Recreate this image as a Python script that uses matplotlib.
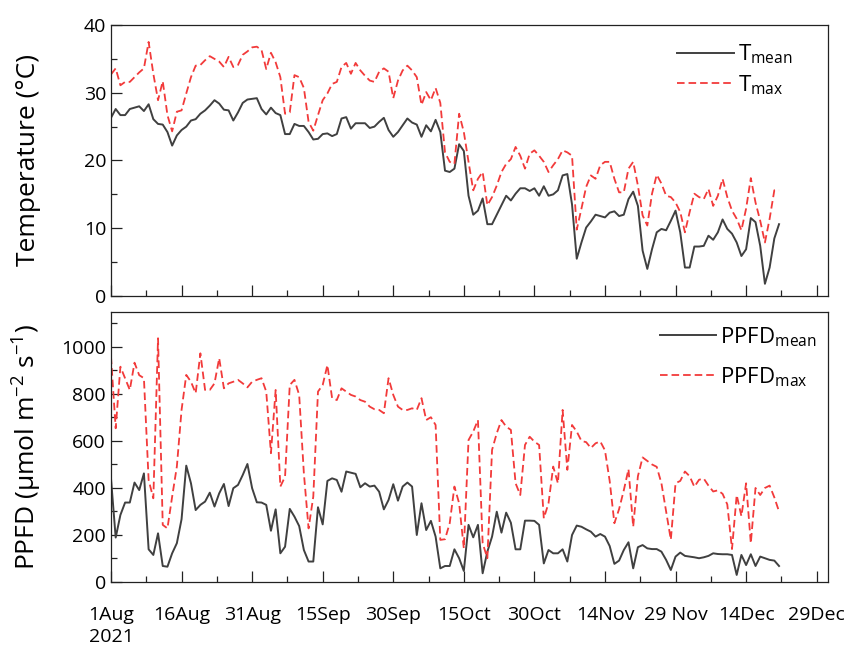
import numpy as np
import matplotlib
matplotlib.use("Agg")
import matplotlib.pyplot as plt
from matplotlib.ticker import MultipleLocator

plt.rcParams['font.family'] = ['Open Sans', 'DejaVu Sans']
plt.rcParams['mathtext.fontset'] = 'custom'
plt.rcParams['mathtext.rm'] = 'Open Sans'
plt.rcParams['mathtext.it'] = 'Open Sans:italic'

# daily values, 1 Aug - 21 Dec 2021
t_mean = [26.3, 27.6, 26.7, 26.7, 27.6, 27.8, 28.0, 27.3, 28.3, 26.1,
          25.4, 25.3, 24.2, 22.2, 23.7, 24.5, 25.0, 25.9, 26.1, 26.9,
          27.4, 28.1, 28.9, 28.4, 27.5, 27.4, 25.9, 27.1, 28.5, 29.0,
          29.1, 29.2, 27.6, 26.8, 27.8, 27.0, 26.7, 23.9, 23.9, 25.4,
          25.1, 25.1, 24.2, 23.1, 23.2, 23.9, 24.0, 23.6, 23.9, 26.2,
          26.4, 24.7, 25.5, 25.5, 25.5, 24.8, 25.0, 25.7, 26.3, 24.5,
          23.5, 24.2, 25.2, 26.2, 25.6, 25.3, 23.5, 25.2, 24.3, 26.0,
          24.2, 18.5, 18.3, 18.8, 22.4, 21.4, 14.8, 12.0, 12.6, 14.4,
          10.6, 10.6, 12.0, 13.4, 14.8, 14.1, 15.1, 15.9, 15.9, 15.5,
          15.9, 14.8, 16.2, 14.8, 15.0, 15.6, 17.8, 18.0, 13.5, 5.5,
          7.9, 10.1, 11.0, 12.0, 11.8, 11.6, 12.3, 12.5, 11.8, 12.0,
          14.3, 15.4, 13.3, 6.7, 4.0, 6.9, 9.4, 9.9, 9.7, 11.1,
          12.6, 9.4, 4.2, 4.2, 7.3, 7.3, 7.4, 8.9, 8.3, 9.4,
          11.3, 9.9, 9.2, 7.9, 5.9, 6.9, 11.5, 10.9, 7.4, 1.8,
          4.2, 8.5, 10.6]
t_max = [32.7, 33.6, 31.1, 31.6, 31.6, 32.3, 33.0, 33.6, 37.5, 32.8,
         28.9, 31.7, 26.7, 24.3, 27.2, 27.4, 29.9, 32.3, 34.0, 34.1,
         34.8, 35.4, 35.0, 34.6, 33.8, 35.3, 33.8, 34.1, 35.6, 36.1,
         36.7, 36.8, 36.3, 33.5, 35.9, 34.5, 32.3, 26.9, 27.1, 32.6,
         32.3, 30.7, 25.7, 24.4, 26.7, 28.9, 29.9, 31.3, 31.6, 33.8,
         34.4, 32.8, 34.4, 33.3, 32.5, 31.8, 31.6, 33.1, 33.6, 33.1,
         29.2, 31.8, 33.3, 34.0, 33.3, 32.3, 28.2, 30.1, 28.9, 30.7,
         28.5, 21.2, 19.8, 19.5, 26.9, 24.2, 19.8, 15.6, 17.3, 18.3,
         13.4, 14.6, 16.3, 18.3, 19.5, 20.2, 22.0, 20.7, 18.8, 21.0,
         21.5, 20.7, 19.8, 18.3, 19.3, 20.2, 21.5, 21.2, 20.7, 9.8,
         12.9, 16.1, 17.8, 17.3, 19.3, 19.8, 19.8, 17.3, 15.3, 15.3,
         18.8, 19.8, 16.3, 11.9, 10.4, 15.1, 17.9, 16.6, 14.8, 14.6,
         13.8, 12.4, 9.4, 12.4, 15.1, 14.6, 14.3, 15.8, 13.3, 14.8,
         17.3, 14.6, 12.6, 11.4, 9.7, 12.9, 17.4, 13.8, 11.1, 7.9,
         11.4, 15.6, 15.6]
ppfd_mean = [440, 189, 285, 338, 338, 423, 391, 462, 139, 115,
             207, 68, 65, 122, 165, 267, 495, 420, 306, 328,
             342, 380, 321, 377, 417, 323, 399, 413, 455, 502,
             399, 339, 338, 328, 218, 309, 122, 150, 311, 278,
             238, 136, 87, 87, 318, 245, 430, 441, 434, 384,
             470, 465, 460, 403, 420, 406, 410, 384, 309, 349,
             416, 346, 406, 423, 406, 200, 335, 221, 260, 193,
             58, 68, 68, 139, 101, 47, 243, 190, 243, 37,
             129, 193, 299, 210, 295, 252, 139, 139, 261, 261,
             260, 243, 79, 136, 122, 122, 139, 87, 200, 240,
             235, 224, 214, 193, 204, 193, 153, 77, 91, 136,
             169, 58, 148, 157, 143, 140, 140, 129, 94, 51,
             108, 125, 111, 108, 105, 101, 105, 111, 122, 119,
             118, 118, 115, 30, 115, 72, 118, 68, 108, 101,
             94, 91, 68]
ppfd_max = [959, 654, 916, 867, 817, 933, 880, 867, 434, 356,
            1037, 243, 228, 363, 491, 732, 881, 852, 803, 973,
            817, 817, 845, 952, 824, 845, 852, 860, 845, 828,
            852, 860, 867, 810, 548, 817, 406, 448, 838, 860,
            796, 462, 228, 363, 810, 838, 923, 782, 774, 824,
            810, 796, 789, 774, 767, 746, 735, 732, 718, 867,
            796, 746, 732, 732, 739, 732, 782, 689, 701, 668,
            179, 182, 250, 406, 335, 143, 604, 640, 689, 165,
            101, 562, 633, 689, 661, 647, 420, 370, 583, 618,
            597, 583, 271, 335, 491, 420, 732, 477, 668, 640,
            600, 595, 570, 590, 598, 560, 430, 250, 310, 390,
            480, 235, 450, 530, 515, 500, 490, 420, 300, 180,
            420, 430, 470, 450, 405, 435, 440, 410, 385, 390,
            375, 330, 140, 370, 280, 420, 165, 400, 370, 400,
            410, 360, 300]
tick_labels = ['1Aug\n2021', '16Aug', '31Aug', '15Sep', '30Sep', '15Oct',
               '30Oct', '14Nov', '29 Nov', '14Dec', '29Dec']

days = np.arange(len(t_mean))
mean_color = '#404040'
max_color = '#f23a3a'

fig = plt.figure(figsize=(8.44, 6.46), dpi=100)
ax1 = fig.add_axes([0.1315, 0.5418, 0.8495, 0.4195])
ax2 = fig.add_axes([0.1315, 0.0991, 0.8495, 0.4184])

ax1.plot(days, t_mean, color=mean_color, lw=1.4, label=r'T$_{\mathrm{mean}}$')
ax1.plot(days, t_max, color=max_color, lw=1.3, dashes=(4.2, 2.2),
         label=r'T$_{\mathrm{max}}$')
ax2.plot(days, ppfd_mean, color=mean_color, lw=1.4,
         label=r'PPFD$_{\mathrm{mean}}$')
ax2.plot(days, ppfd_max, color=max_color, lw=1.3, dashes=(4.2, 2.2),
         label=r'PPFD$_{\mathrm{max}}$')

ax1.set_ylim(0, 40)
ax1.yaxis.set_major_locator(MultipleLocator(10))
ax1.yaxis.set_minor_locator(MultipleLocator(5))
ax2.set_ylim(0, 1150)
ax2.yaxis.set_major_locator(MultipleLocator(200))
ax2.yaxis.set_minor_locator(MultipleLocator(100))

for ax in (ax1, ax2):
    ax.set_xlim(0, 152.4)
    ax.set_xticks(np.arange(0, 151, 15))
    ax.xaxis.set_minor_locator(MultipleLocator(7.5))
    ax.tick_params(which='both', direction='in', top=False, right=False,
                   labelsize=14, width=0.9, color='#222222')
    ax.tick_params(which='major', length=8)
    ax.tick_params(which='minor', length=4)
    for s in ax.spines.values():
        s.set_linewidth(0.9)
        s.set_color('#222222')

ax1.legend(loc='upper left', bbox_to_anchor=(0.789, 0.934), frameon=False,
           fontsize=16, handlelength=2.57, handletextpad=0.2,
           labelspacing=0.3, borderpad=0, borderaxespad=0)
ax2.legend(loc='upper left', bbox_to_anchor=(0.766, 0.951), frameon=False,
           fontsize=16, handlelength=2.5, handletextpad=0.2,
           labelspacing=0.75, borderpad=0, borderaxespad=0)

ax1.set_xticklabels([])
ax2.set_xticklabels(tick_labels, linespacing=1.3)
ax2.tick_params(axis='x', pad=17)

ax1.set_ylabel('Temperature (°C)', fontsize=19)
ax2.set_ylabel(r'PPFD (μmol m$^{-2}$ s$^{-1}$)', fontsize=19)
ax1.yaxis.set_label_coords(-0.097, 0.5)
ax2.yaxis.set_label_coords(-0.093, 0.5)

fig.savefig('out.png', dpi=100)
